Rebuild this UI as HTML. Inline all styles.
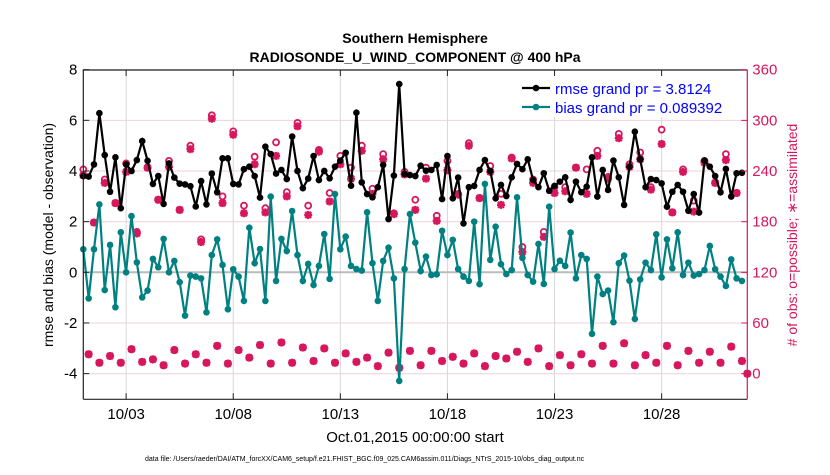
<!DOCTYPE html>
<html><head><meta charset="utf-8">
<style>
body{margin:0;background:#fff;width:830px;height:470px;overflow:hidden;font-family:"Liberation Sans",sans-serif}
svg text{font-family:"Liberation Sans",sans-serif}
</style></head><body>
<svg id="chart" width="830" height="470" xmlns="http://www.w3.org/2000/svg">
<text x="415" y="43" text-anchor="middle" font-size="14" font-weight="bold">Southern Hemisphere</text>
<text x="415" y="62" text-anchor="middle" font-size="14" font-weight="bold">RADIOSONDE_U_WIND_COMPONENT @ 400 hPa</text>
<g id="grid"></g>
<g id="series"></g>
<g id="axes"></g>
<text x="415" y="442" text-anchor="middle" font-size="15">Oct.01,2015 00:00:00 start</text>
<text transform="translate(53,235) rotate(-90)" text-anchor="middle" font-size="14">rmse and bias (model - observation)</text>
<text transform="translate(797,235) rotate(-90)" text-anchor="middle" font-size="14" fill="#d6175e"># of obs: o=possible; ∗=assimilated</text>
<text x="145" y="461" font-size="7">data file: /Users/raeder/DAI/ATM_forcXX/CAM6_setup/f.e21.FHIST_BGC.f09_025.CAM6assim.011/Diags_NTrS_2015-10/obs_diag_output.nc</text>
</svg>
<script>
const rmse=[3.8,3.78,4.26,6.28,4.63,3.18,4.54,2.53,4.26,4.0,4.43,5.18,4.4,3.49,3.8,2.7,4.3,3.74,3.5,3.47,3.4,2.6,3.6,2.68,3.9,3.16,4.5,4.5,3.49,3.47,4.07,4.17,3.8,2.95,4.96,4.67,3.9,4.04,3.68,5.36,4.0,3.32,3.7,4.59,3.64,4.0,3.71,4.17,4.41,4.72,3.42,6.3,3.55,3.09,2.96,3.36,4.24,2.1,3.82,7.43,3.88,3.84,3.8,4.21,4.01,4.04,4.24,2.89,4.59,2.92,3.74,1.93,3.36,3.41,4.04,4.43,4.0,2.92,3.45,3.01,3.75,4.28,4.07,4.46,3.64,3.36,3.91,3.22,3.41,3.58,3.75,2.86,3.58,3.16,3.38,4.54,2.99,4.04,3.25,4.41,3.75,2.66,4.17,5.55,4.46,3.36,3.68,3.64,3.51,2.59,3.18,3.45,3.18,2.43,3.09,2.36,4.41,4.17,3.8,3.16,4.08,2.99,3.91,3.93];
const bias=[0.91,-1.03,0.91,2.68,-0.7,1.08,-1.38,1.58,0,2.22,0.39,-0.99,-0.72,0.53,0.2,1.32,0,0.45,-0.39,-1.71,-0.13,-0.17,-0.24,-1.58,0.68,1.3,0.29,-1.46,0.12,-0.17,-1.13,1.76,0.36,0.92,-1.13,2.99,-0.34,1.32,0.84,2.42,0.68,-0.34,0.33,-0.5,0.25,1.51,-0.26,3.09,0.91,1.41,0.25,0.13,0.07,2.37,0.36,-1.13,0.45,0.97,-0.24,-4.29,0.13,2.3,1.17,0.05,0.62,-0.11,-0.08,1.64,0.68,1.28,0.13,-0.17,-0.34,2.0,-0.47,3.49,0.49,1.8,0.32,-0.07,0.09,2.96,0.57,-0.11,-0.37,1.12,-0.46,2.59,0.13,0.46,0.25,1.57,-0.24,0.68,0.53,-2.43,-0.17,-0.86,-0.72,-1.97,0.36,0.66,-0.33,-1.84,-0.28,0.38,0.09,1.5,-0.2,1.3,0.16,1.58,-0.11,0.38,-0.13,-0.07,0.09,1.04,0.12,-0.17,-0.54,0.51,-0.24,-0.34];
const nUsed=[235,23,179,13,226,21,202,13,239,29,166,14,244,17,206,10,245,28,194,12,266,23,156,13,302,33,202,12,283,28,190,19,248,34,191,12,258,37,210,13,293,31,188,15,263,30,204,13,248,24,231,14,264,19,213,9,254,25,189,7,236,27,194,10,231,27,181,15,241,20,212,12,270,24,208,9,239,21,200,18,255,26,144,14,226,30,162,9,214,22,216,10,244,23,213,12,258,33,231,12,279,36,245,10,254,22,218,13,272,33,191,10,239,27,192,13,250,26,226,13,253,32,214,15,0];
const nPoss=[242,23,179,13,230,21,202,13,249,29,168,14,244,17,206,10,252,28,194,12,270,23,159,13,306,33,210,12,287,28,199,19,257,34,196,12,274,37,215,13,297,31,199,15,265,30,214,13,258,24,244,14,270,19,219,9,260,25,190,7,239,27,206,10,244,27,187,15,252,20,213,12,273,24,208,9,246,21,213,18,256,26,150,14,230,30,168,9,221,22,221,10,244,23,242,12,264,33,233,12,284,36,248,10,262,22,221,13,289,33,191,10,242,27,205,13,252,26,226,13,260,32,214,15,0];
const leftTicks=[-4,-2,0,2,4,6,8];
const rightTicks=[0,60,120,180,240,300,360];
const dayTicks=[3,8,13,18,23,28];
const dayLabels=["10/03","10/08","10/13","10/18","10/23","10/28"];

const X0=83.3,X1=747.3,Y0=70,Y1=399.3;
const xDay=d=>X0+(d-1)*(X1-X0)/31;
const xIdx=i=>xDay(1+i/4);
const yL=v=>272.3-25.33*v;
const yR=c=>373.7-0.8444*c;
const RED="#d6175e",TEAL="#008080";
const NS="http://www.w3.org/2000/svg";
function mk(tag,attrs,parent){const e=document.createElementNS(NS,tag);for(const k in attrs)e.setAttribute(k,attrs[k]);parent.appendChild(e);return e;}
const grid=document.getElementById('grid'),ser=document.getElementById('series'),ax=document.getElementById('axes');

rightTicks.forEach(t=>{const l=mk('line',{x1:X0,x2:X1,y1:yR(t),y2:yR(t),stroke:'#f2cfdc','stroke-width':1},grid);

});
dayTicks.forEach(d=>{const l=mk('line',{x1:xDay(d),x2:xDay(d),y1:Y0,y2:Y1,stroke:'#d8d8d8','stroke-width':1},grid);

});
const z=mk('line',{x1:X0,x2:X1,y1:yL(0),y2:yL(0),stroke:'#bbb','stroke-width':2},grid);



function star(x,y,g){mk('path',{d:`M${x-4},${y}H${x+4}M${x},${y-4}V${y+4}M${x-3},${y-3}L${x+3},${y+3}M${x-3},${y+3}L${x+3},${y-3}`,stroke:RED,'stroke-width':2.4,fill:'none'},g);}
nUsed.forEach((c,i)=>{const g=mk('g',{},ser);


mk('circle',{cx:xIdx(i),cy:yR(nPoss[i]),r:3,fill:'#fff',stroke:RED,'stroke-width':1.8},g);
star(xIdx(i),yR(c),g);});

function series(vals,color,name){
 const pts=vals.map((v,i)=>xIdx(i).toFixed(1)+','+yL(v).toFixed(1)).join(' ');
 const pl=mk('polyline',{points:pts,fill:'none',stroke:color,'stroke-width':2.2},ser);
 
 
 vals.forEach((v,i)=>{const c=mk('circle',{cx:xIdx(i),cy:yL(v),r:3.3,fill:color},ser);
 
 });
}
series(bias,TEAL,'bias');
series(rmse,'#000','rmse');

const lg=mk('g',{},ax);


mk('rect',{x:522,y:72,width:223,height:45,fill:'#fff'},lg);
mk('line',{x1:522,x2:550,y1:88,y2:88,stroke:'#000','stroke-width':2.2},lg);
mk('circle',{cx:536,cy:88,r:3.3,fill:'#000'},lg);
mk('line',{x1:522,x2:550,y1:107,y2:107,stroke:TEAL,'stroke-width':2.2},lg);
mk('circle',{cx:536,cy:107,r:3.3,fill:TEAL},lg);
const t1=mk('text',{x:555,y:94,'font-size':15,fill:'#0000ff'},lg);t1.textContent='rmse grand pr = 3.8124';


const t2=mk('text',{x:555,y:113,'font-size':15,fill:'#0000ff'},lg);t2.textContent='bias grand pr = 0.089392';



mk('path',{d:`M${X0},${Y1}V${Y0}H${X1}`,stroke:'#222','stroke-width':1.2,fill:'none'},ax);
mk('line',{x1:X0,x2:X1,y1:Y1,y2:Y1,stroke:'#222','stroke-width':1.2},ax);
mk('line',{x1:X1,x2:X1,y1:Y0,y2:Y1,stroke:RED,'stroke-width':1.2},ax);
leftTicks.forEach(t=>{mk('line',{x1:X0,x2:X0+6,y1:yL(t),y2:yL(t),stroke:'#222'},ax);
 const e=mk('text',{x:X0-6,y:yL(t)+5,'text-anchor':'end','font-size':15},ax);e.textContent=t;
 
 });
rightTicks.forEach(t=>{mk('line',{x1:X1-6,x2:X1,y1:yR(t),y2:yR(t),stroke:RED},ax);
 const e=mk('text',{x:X1+5,y:yR(t)+5,'font-size':15,fill:RED},ax);e.textContent=t;
 
 });
dayTicks.forEach((d,i)=>{mk('line',{x1:xDay(d),x2:xDay(d),y1:Y1,y2:Y1-6,stroke:'#222'},ax);
 mk('line',{x1:xDay(d),x2:xDay(d),y1:Y0,y2:Y0+6,stroke:'#222'},ax);
 const e=mk('text',{x:xDay(d),y:419,'text-anchor':'middle','font-size':15},ax);e.textContent=dayLabels[i];
 
 });
</script>
</body></html>
